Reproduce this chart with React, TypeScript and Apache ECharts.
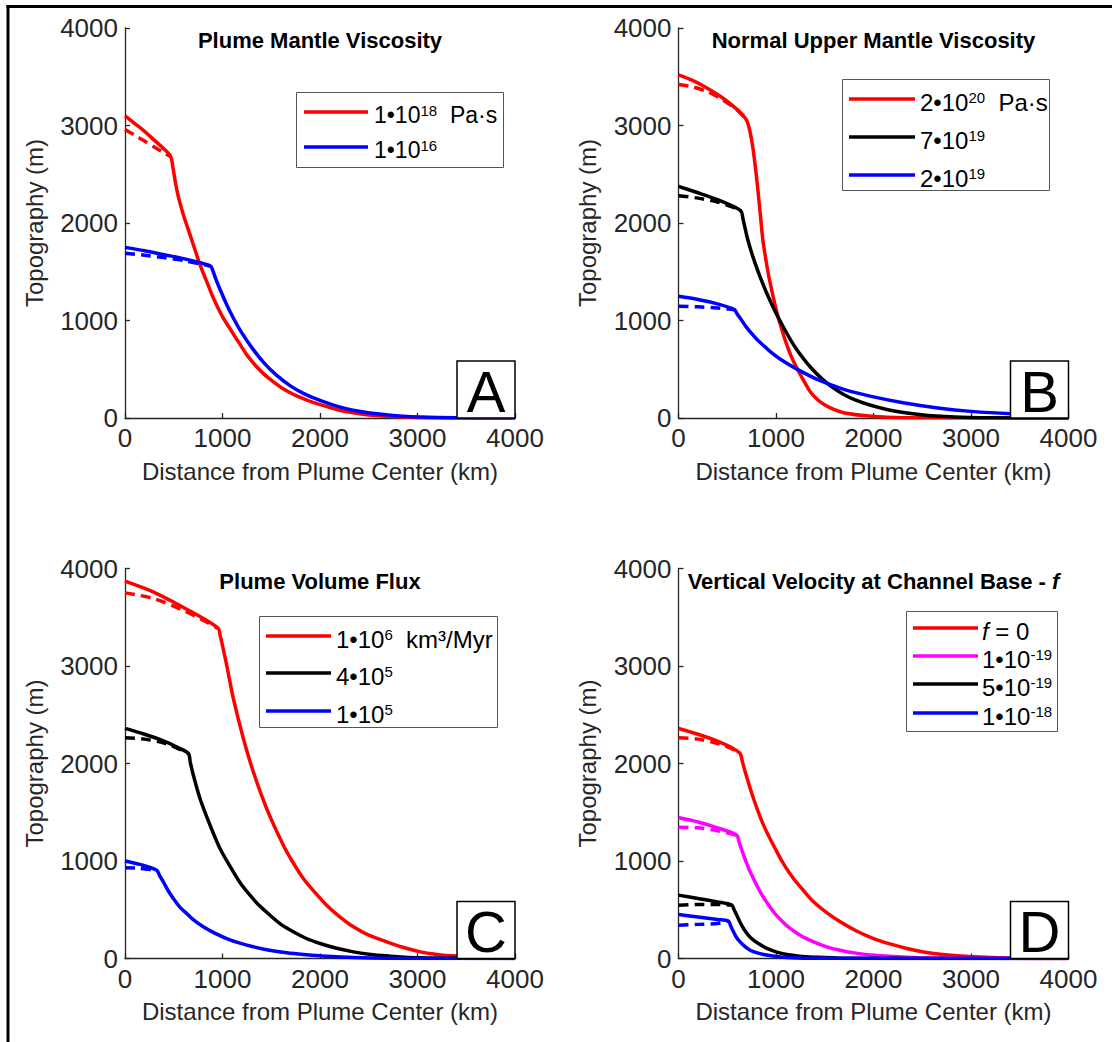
import React, { useEffect, useRef } from 'react';
import * as echarts from 'echarts';

type P = [number, number][];

// ---------- data (Distance km, Topography m) ----------
// Panel A – Plume Mantle Viscosity
const aRedSolid: P = [[0,3100],[100,3020],[200,2940],[300,2850],[400,2760],[470,2680],[490,2580],[520,2400],[547,2270],[600,2080],[650,1930],[700,1780],[769,1573],[850,1370],[906,1231],[1000,1040],[1100,880],[1170,770],[1248,650],[1300,584],[1360,515],[1420,455],[1487,398],[1560,342],[1620,301],[1690,262],[1761,226],[1880,178],[2000,137],[2100,108],[2170,88],[2342,53],[2500,31],[2684,17],[3000,5],[3400,0],[4000,0]];
const aRedDash: P = [[0,2960],[100,2900],[200,2840],[300,2780],[400,2720],[470,2680]];
const aBlueSolid: P = [[0,1750],[200,1715],[400,1675],[600,1635],[800,1585],[880,1556],[905,1500],[930,1430],[974,1320],[1040,1170],[1111,1026],[1200,870],[1316,701],[1430,560],[1556,437],[1700,327],[1829,253],[2000,180],[2171,122],[2340,80],[2513,51],[2855,17],[3200,4],[4000,0]];
const aBlueDash: P = [[0,1690],[200,1670],[400,1645],[600,1615],[800,1575],[880,1556]];

// Panel B – Normal Upper Mantle Viscosity
const bRedSolid: P = [[0,3520],[150,3460],[300,3380],[450,3285],[600,3165],[690,3070],[715,3010],[735,2930],[762,2780],[790,2560],[814,2342],[840,2080],[865,1829],[900,1600],[933,1419],[1002,1111],[1070,872],[1156,632],[1241,461],[1300,355],[1361,256],[1430,185],[1497,137],[1600,85],[1703,51],[1976,17],[2300,3],[4000,0]];
const bRedDash: P = [[0,3420],[150,3395],[300,3345],[450,3265],[600,3160],[690,3070]];
const bBlackSolid: P = [[0,2376],[200,2310],[400,2240],[550,2175],[643,2120],[660,2050],[680,1960],[710,1830],[762,1658],[848,1419],[950,1180],[1053,974],[1190,735],[1361,513],[1566,325],[1805,188],[2147,85],[2489,34],[2831,10],[3200,2],[4000,0]];
const bBlackDash: P = [[0,2280],[200,2255],[400,2215],[550,2165],[643,2120]];
const bBlueSolid: P = [[0,1248],[200,1215],[400,1170],[574,1111],[600,1070],[643,1009],[690,940],[745,872],[810,800],[882,735],[960,665],[1053,598],[1224,496],[1429,393],[1703,291],[1976,222],[2318,154],[2660,103],[3002,68],[3412,44],[4000,25]];
const bBlueDash: P = [[0,1145],[200,1140],[400,1128],[574,1111]];

// Panel C – Plume Volume Flux
const cRedSolid: P = [[0,3870],[300,3755],[600,3600],[800,3490],[957,3385],[975,3320],[1000,3210],[1043,3009],[1111,2667],[1214,2256],[1316,1915],[1453,1538],[1624,1162],[1720,990],[1829,821],[1950,675],[2068,547],[2200,430],[2342,325],[2500,240],[2684,171],[2850,115],[3026,68],[3200,42],[3368,27],[4000,0]];
const cRedDash: P = [[0,3750],[300,3690],[600,3570],[800,3470],[957,3385]];
const cBlackSolid: P = [[0,2360],[200,2300],[400,2230],[550,2160],[650,2103],[670,2010],[701,1880],[769,1641],[872,1368],[974,1128],[1111,889],[1190,765],[1282,650],[1380,540],[1487,444],[1600,350],[1726,274],[1860,205],[2000,154],[2170,105],[2342,68],[2500,44],[2684,27],[3026,7],[4000,0]];
const cBlackDash: P = [[0,2265],[200,2250],[400,2210],[550,2150],[650,2103]];
const cBlueSolid: P = [[0,1000],[150,965],[325,906],[355,850],[393,786],[440,700],[496,615],[560,530],[632,462],[710,390],[803,325],[920,260],[1043,205],[1170,160],[1316,120],[1480,85],[1658,58],[1830,40],[2000,27],[2342,10],[3000,0],[4000,0]];
const cBlueDash: P = [[0,930],[150,925],[325,906]];

// Panel D – Vertical Velocity at Channel Base - f
const dRedSolid: P = [[0,2359],[200,2300],[400,2230],[550,2160],[632,2103],[655,2020],[684,1915],[769,1641],[872,1368],[1009,1094],[1090,950],[1179,821],[1280,700],[1385,581],[1520,470],[1658,376],[1820,285],[2000,205],[2170,150],[2342,103],[2500,70],[2684,44],[3026,17],[3400,3],[4000,0]];
const dRedDash: P = [[0,2263],[200,2250],[400,2205],[550,2150],[632,2103]];
const dMagSolid: P = [[0,1446],[200,1400],[400,1340],[598,1265],[620,1200],[650,1110],[690,1000],[735,889],[838,684],[974,479],[1060,385],[1145,308],[1260,230],[1385,171],[1520,120],[1658,85],[1820,55],[2000,34],[2342,14],[2700,4],[4000,0]];
const dMagDash: P = [[0,1345],[200,1340],[400,1310],[598,1265]];
const dBlackSolid: P = [[0,650],[200,615],[400,580],[547,547],[570,500],[598,444],[630,375],[667,308],[715,240],[769,188],[840,140],[906,103],[1000,68],[1111,41],[1240,24],[1385,14],[1658,3],[4000,0]];
const dBlackDash: P = [[0,545],[200,555],[400,555],[547,547]];
const dBlueSolid: P = [[0,451],[200,425],[400,400],[513,383],[535,335],[564,274],[595,215],[632,171],[680,125],[735,85],[800,60],[872,41],[970,25],[1077,14],[1316,3],[4000,0]];
const dBlueDash: P = [[0,342],[200,350],[400,360],[513,383]];

const titles = ['Plume Mantle Viscosity', 'Normal Upper Mantle Viscosity', 'Plume Volume Flux', '{b|Vertical Velocity at Channel Base - }{bi|f}'];
const letters = ['A', 'B', 'C', 'D'];
const legendA = ['{n|1•10}{s|18}{n|  Pa·s}', '{n|1•10}{s|16}'];
const legendB = ['{n|2•10}{s|20}{n|  Pa·s}', '{n|7•10}{s|19}', '{n|2•10}{s|19}'];
const legendC = ['{n|1•10}{s|6}{n|  km³/Myr}', '{n|4•10}{s|5}', '{n|1•10}{s|5}'];
const legendD = ['{i|f}{n| = 0}', '{n|1•10}{s|-19}', '{n|5•10}{s|-19}', '{n|1•10}{s|-18}'];

const RED = '#ff0000';
const BLUE = '#0000ff';
const BLACK = '#000000';
const MAGENTA = '#ff00ff';
const FONT = '"Liberation Sans", Arial, Helvetica, sans-serif';
const AXIS = '#262626';

interface Curve { data: P; color: string; dashed?: boolean }
interface Panel {
  left: number; top: number; curves: Curve[];
  legend: { texts: string[]; colors: string[]; box: [number, number, number, number]; lineX: [number, number]; rows: number[]; textX: number; fontSize: number };
}

const SIZE = 390;

const panels: Panel[] = [
  {
    left: 125, top: 28,
    curves: [
      { data: aRedDash, color: RED, dashed: true }, { data: aBlueDash, color: BLUE, dashed: true },
      { data: aRedSolid, color: RED }, { data: aBlueSolid, color: BLUE },
    ],
    legend: { texts: legendA, colors: [RED, BLUE], box: [296.5, 92.5, 207, 75], lineX: [304, 368], rows: [112, 147], textX: 374, fontSize: 23 },
  },
  {
    left: 678.5, top: 28,
    curves: [
      { data: bRedDash, color: RED, dashed: true }, { data: bBlackDash, color: BLACK, dashed: true }, { data: bBlueDash, color: BLUE, dashed: true },
      { data: bRedSolid, color: RED }, { data: bBlackSolid, color: BLACK }, { data: bBlueSolid, color: BLUE },
    ],
    legend: { texts: legendB, colors: [RED, BLACK, BLUE], box: [842.5, 79.5, 207, 111], lineX: [849, 915], rows: [99, 137, 175], textX: 920, fontSize: 24 },
  },
  {
    left: 125, top: 568.5,
    curves: [
      { data: cRedDash, color: RED, dashed: true }, { data: cBlackDash, color: BLACK, dashed: true }, { data: cBlueDash, color: BLUE, dashed: true },
      { data: cRedSolid, color: RED }, { data: cBlackSolid, color: BLACK }, { data: cBlueSolid, color: BLUE },
    ],
    legend: { texts: legendC, colors: [RED, BLACK, BLUE], box: [259.5, 616.5, 238, 111], lineX: [266, 331], rows: [636, 673, 711], textX: 336, fontSize: 24 },
  },
  {
    left: 678.5, top: 568.5,
    curves: [
      { data: dRedDash, color: RED, dashed: true }, { data: dMagDash, color: MAGENTA, dashed: true }, { data: dBlackDash, color: BLACK, dashed: true }, { data: dBlueDash, color: BLUE, dashed: true },
      { data: dRedSolid, color: RED }, { data: dMagSolid, color: MAGENTA }, { data: dBlackSolid, color: BLACK }, { data: dBlueSolid, color: BLUE },
    ],
    legend: { texts: legendD, colors: [RED, MAGENTA, BLACK, BLUE], box: [906.5, 611.5, 151, 120], lineX: [913, 978], rows: [628, 656, 684, 713], textX: 982, fontSize: 24 },
  },
];

function buildOption() {
  const grid: any[] = [];
  const xAxis: any[] = [];
  const yAxis: any[] = [];
  const series: any[] = [];
  const graphic: any[] = [];

  // figure frame (top and left edges visible)
  graphic.push({ type: 'line', z: 100, shape: { x1: 6.5, y1: 6.5, x2: 1112, y2: 6.5 }, style: { stroke: '#000', lineWidth: 3 } });
  graphic.push({ type: 'line', z: 100, shape: { x1: 8, y1: 5, x2: 8, y2: 1042 }, style: { stroke: '#000', lineWidth: 3 } });

  panels.forEach((p, i) => {
    grid.push({ left: p.left, top: p.top, width: SIZE, height: SIZE, containLabel: false });
    const axisCommon = {
      gridIndex: i, type: 'value', min: 0, max: 4000, interval: 1000,
      axisLine: { show: true, onZero: false, lineStyle: { color: AXIS, width: 1.3 } },
      axisTick: { show: true, inside: true, length: 5, lineStyle: { color: AXIS, width: 1.3 } },
      splitLine: { show: false },
      axisLabel: {
        color: AXIS, fontSize: 26, fontFamily: FONT, margin: 7, showMinLabel: true, showMaxLabel: true,
        formatter: (v: number) => String(v),
      },
      nameLocation: 'middle',
      nameTextStyle: { color: AXIS, fontSize: 24, fontFamily: FONT },
    };
    xAxis.push({ ...axisCommon, position: 'bottom', name: 'Distance from Plume Center (km)', nameGap: 41 });
    yAxis.push({ ...axisCommon, position: 'left', name: 'Topography (m)', nameGap: 79 });

    p.curves.forEach((c) => {
      series.push({
        type: 'line', xAxisIndex: i, yAxisIndex: i, data: c.data,
        showSymbol: false, symbol: 'none', smooth: 0.3,
        lineStyle: { color: c.color, width: 3.5, type: c.dashed ? [10, 6] : 'solid', join: 'round', cap: 'butt' },
        itemStyle: { color: c.color },
        silent: true, z: c.dashed ? 2 : 3,
      });
    });

    // title
    const cx = p.left + SIZE / 2;
    const ty = p.top + 12.5;
    graphic.push({
      type: 'text', z: 100, x: cx, y: ty,
      style: {
        text: titles[i], fill: '#000', font: `bold 22px ${FONT}`, fontSize: 22, fontWeight: 'bold', fontFamily: FONT,
        align: 'center', verticalAlign: 'middle', textAlign: 'center', textVerticalAlign: 'middle',
        rich: {
          b: { fontSize: 22, fontWeight: 'bold', fontFamily: FONT, fill: '#000' },
          bi: { fontSize: 22, fontWeight: 'bold', fontStyle: 'italic', fontFamily: FONT, fill: '#000' },
        },
      },
    });

    // legend box
    const L = p.legend;
    graphic.push({ type: 'rect', z: 100, shape: { x: L.box[0], y: L.box[1], width: L.box[2], height: L.box[3] }, style: { fill: '#fff', stroke: '#555', lineWidth: 1 } });
    L.texts.forEach((t, k) => {
      const yy = L.rows[k];
      graphic.push({ type: 'line', z: 101, shape: { x1: L.lineX[0], y1: yy, x2: L.lineX[1], y2: yy }, style: { stroke: L.colors[k], lineWidth: 3.5 } });
      graphic.push({
        type: 'text', z: 101, x: L.textX, y: yy + 3,
        style: {
          text: t, fill: '#000', fontSize: L.fontSize, fontFamily: FONT,
          align: 'left', verticalAlign: 'middle', textAlign: 'left', textVerticalAlign: 'middle',
          rich: {
            n: { fontSize: L.fontSize, fontFamily: FONT, fill: '#000' },
            i: { fontSize: L.fontSize, fontFamily: FONT, fontStyle: 'italic', fill: '#000' },
            s: { fontSize: 15, fontFamily: FONT, fill: '#000', padding: [0, 0, 9, 0] },
          },
        },
      });
    });

    // panel letter box
    const bx = p.left + SIZE - 58;
    const by = p.top + SIZE - 57;
    graphic.push({ type: 'rect', z: 100, shape: { x: bx, y: by, width: 58, height: 57 }, style: { fill: '#fff', stroke: '#000', lineWidth: 1.5 } });
    graphic.push({
      type: 'text', z: 101, x: bx + 29, y: by + 30,
      style: {
        text: letters[i], fill: '#000', fontSize: 58, fontFamily: FONT,
        align: 'center', verticalAlign: 'middle', textAlign: 'center', textVerticalAlign: 'middle',
      },
    });
  });

  return {
    animation: false,
    backgroundColor: '#ffffff',
    textStyle: { fontFamily: FONT },
    grid, xAxis, yAxis, series, graphic,
  };
}

export default function App() {
  const ref = useRef<HTMLDivElement>(null);
  useEffect(() => {
    if (!ref.current) return;
    const chart = echarts.init(ref.current, undefined, { renderer: 'svg' });
    chart.setOption(buildOption() as any);
    return () => chart.dispose();
  }, []);
  return (
    <div
      ref={ref}
      style={{ position: 'fixed', left: 0, top: 0, width: 1112, height: 1042, background: '#fff' }}
    />
  );
}
